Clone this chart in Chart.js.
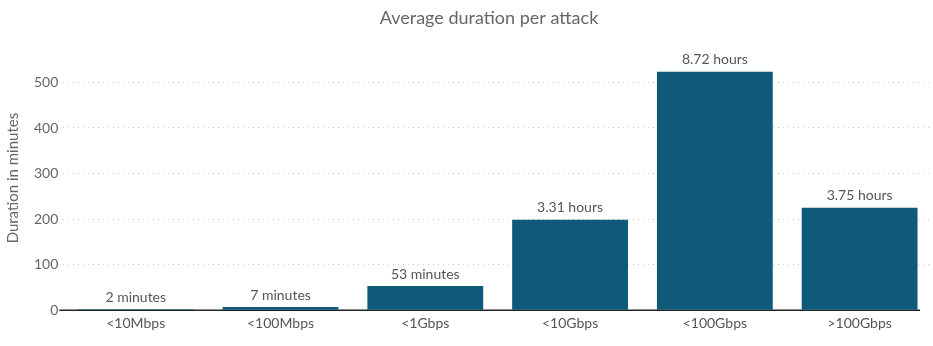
<!DOCTYPE html>
<html>
<head>
<meta charset="utf-8">
<script src="https://cdn.jsdelivr.net/npm/chart.js@4/dist/chart.umd.min.js"></script>
<style>
  html, body { margin: 0; padding: 0; background: #fff; }
  #wrap { width: 933px; height: 346px; }
</style>
</head>
<body>
<div id="wrap"><canvas id="durationChart"></canvas></div>
<script>
const categories = ['<10Mbps', '<100Mbps', '<1Gbps', '<10Gbps', '<100Gbps', '>100Gbps'];
const durationMinutes = [2, 7, 53, 198.6, 523.2, 225];
const durationLabels = ['2 minutes', '7 minutes', '53 minutes', '3.31 hours', '8.72 hours', '3.75 hours'];
const yTicks = [0, 100, 200, 300, 400, 500];

const chartTitle = 'Average duration per attack';
const barColor = '#0f5a78';
const textColor = '#666';
const fontFamily = 'Lato, "Noto Sans", sans-serif';

// zero line, labels above the bars, title centred on the plot
const barTextPlugin = {
    id: 'barText',
    beforeDatasetsDraw(chart) {
        const { ctx, chartArea } = chart;
        const y0 = chart.scales.y.getPixelForValue(0);
        ctx.save();
        ctx.strokeStyle = '#222';
        ctx.lineWidth = 1.5;
        ctx.beginPath();
        ctx.moveTo(chartArea.left - 4, y0);
        ctx.lineTo(chartArea.right - 12, y0);
        ctx.stroke();
        ctx.restore();
    },
    afterDatasetsDraw(chart) {
        const { ctx } = chart;
        const meta = chart.getDatasetMeta(0);
        ctx.save();
        ctx.font = '14px ' + fontFamily;
        ctx.fillStyle = '#555';
        ctx.textAlign = 'center';
        ctx.textBaseline = 'bottom';
        meta.data.forEach((bar, i) => {
            ctx.fillText(durationLabels[i], bar.x, bar.y - 5);
        });
        ctx.font = '18px ' + fontFamily;
        ctx.fillStyle = textColor;
        ctx.textBaseline = 'middle';
        ctx.fillText(chartTitle, 489, 18);
        ctx.restore();
    }
};

const ctx = document.getElementById('durationChart').getContext('2d');
const durationChart = new Chart(ctx, {
    type: 'bar',
    data: {
        labels: categories,
        datasets: [{
            data: durationMinutes,
            backgroundColor: barColor,
            borderWidth: 0,
            categoryPercentage: 0.8,
            barPercentage: 1.0
        }]
    },
    options: {
        responsive: true,
        maintainAspectRatio: false,
        animation: false,
        layout: { padding: { top: 46, right: 1, bottom: 9, left: 4 } },
        plugins: {
            legend: { display: false },
            tooltip: { enabled: false }
        },
        scales: {
            x: {
                grid: { display: false, drawTicks: false },
                border: { display: false },
                ticks: { color: '#555', font: { family: fontFamily, size: 14 }, padding: 5 }
            },
            y: {
                min: 0,
                max: 580,
                afterBuildTicks: axis => { axis.ticks = yTicks.map(v => ({ value: v })); },
                border: { display: false },
                grid: {
                    color: ctx => ctx.tick && ctx.tick.value === 0 ? 'rgba(0,0,0,0)' : '#c8c8c8',
                    lineWidth: 1,
                    drawTicks: false
                },
                ticks: { color: textColor, font: { family: fontFamily, size: 14 }, padding: 5 },
                title: {
                    display: true,
                    text: 'Duration in minutes',
                    color: textColor,
                    font: { family: fontFamily, size: 15 },
                    padding: { top: 0, bottom: 7 }
                }
            }
        }
    },
    plugins: [barTextPlugin]
});
// dotted grid lines
durationChart.options.scales.y.border.dash = [1, 4];
durationChart.update();
</script>
</body>
</html>
